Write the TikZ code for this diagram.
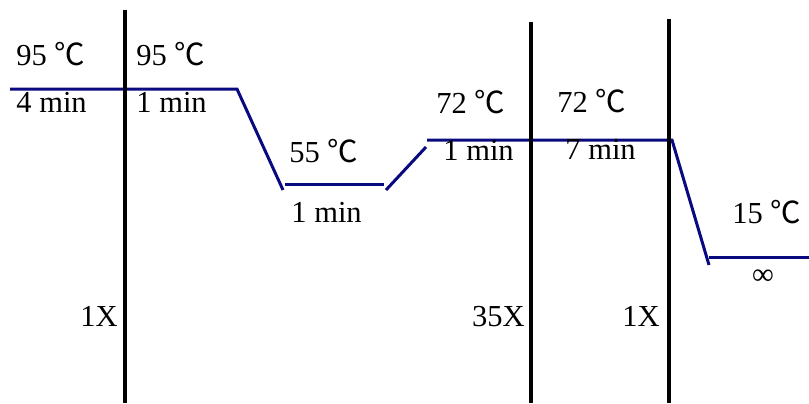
\documentclass[tikz,border=0pt]{standalone}
\usepackage{fontspec}
\setmainfont{Liberation Serif}
\newfontfamily\degfont{Noto Sans CJK SC}
\newcommand\degc{{\degfont ℃}}
\definecolor{pcrblue}{RGB}{10,10,128}
\begin{document}
\begin{tikzpicture}[x=.5pt, y=-.5pt, font=\fontsize{15.25pt}{18pt}\selectfont]
		\useasboundingbox (0,0) rectangle (809,403);
		\def\ramp{10/89, 237/89, 283/190, 285/184, 384/184, 386/190, 426/147, 427/140, 672/140, 709/265, 709/257, 809/257}
		\foreach \px/\py [count = \k] in \ramp{
			\coordinate (P\k) at (\px, \py);
		}
		\draw[pcrblue, line width=1.5pt] (P1) -- (P2) -- (P3);
		\draw[pcrblue, line width=1.5pt] (P4) -- (P5);
		\draw[pcrblue, line width=1.5pt] (P6) -- (P7);
		\draw[pcrblue, line width=1.5pt] (P8) -- (P9) -- (P10);
		\draw[pcrblue, line width=1.5pt] (P11) -- (P12);
		\foreach \px/\ptop [count = \k] in {125/10, 531/22, 669/19}{
			\coordinate (T\k) at (\px, \ptop);
			\coordinate (B\k) at (\px, 403);
			\draw[black, line width=1.75pt] (T\k) -- (B\k);
		}
		\foreach \px/\py/\txt [count = \j] in {
			16/65/95 \degc, 136/65/95 \degc,
			16/112/4 min, 136/112/1 min,
			289/162/55 \degc, 291/222/1 min,
			436/113/72 \degc, 443/160/1 min,
			557/112/72 \degc, 565/159/7 min,
			732/223/15 \degc}{
			\node[anchor=base west, inner sep=0pt] (L\j) at (\px, \py) {\txt};
		}
		\node[anchor=base, inner sep=0pt] (inf) at (763, 284) {∞};
		\foreach \px/\txt [count = \j] in {118/1X, 525/35X, 660/1X}{
			\node[anchor=base east, inner sep=0pt] (C\j) at (\px, 326) {\txt};
		}
	\end{tikzpicture}
\end{document}
